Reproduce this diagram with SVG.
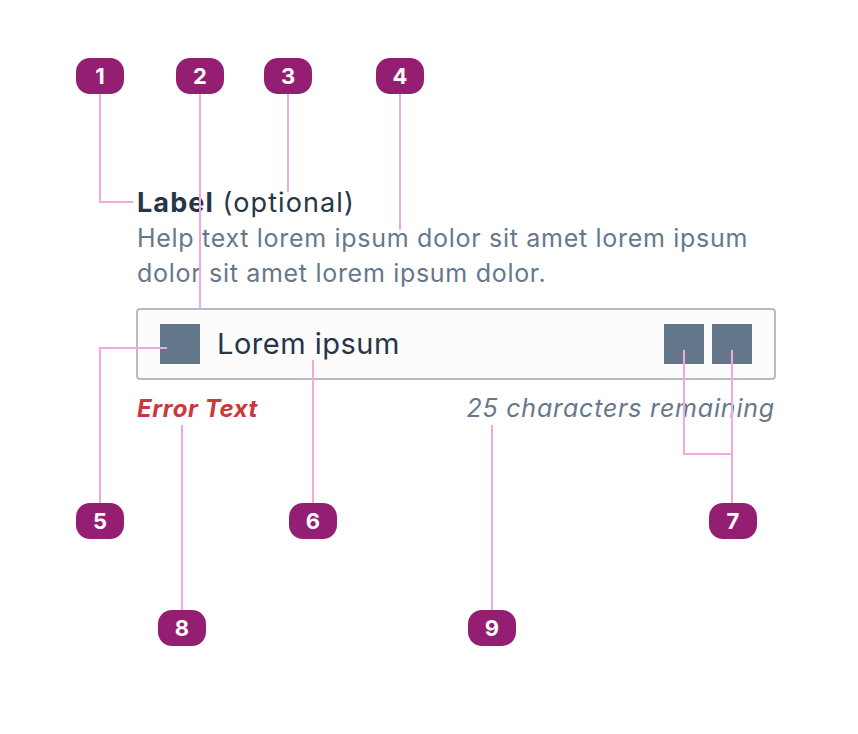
<svg xmlns="http://www.w3.org/2000/svg" width="858" height="734" viewBox="0 0 858 734">
<style>
.badge rect{fill:#941f72}
.badge text{fill:#ffffff;font-family:Inter,"Liberation Sans",sans-serif;font-weight:700;font-size:22px;text-anchor:middle}
.conn{fill:none;stroke:#f5a8dc;stroke-width:2}
.t{font-family:Inter,"Liberation Sans",sans-serif}
.icon{fill:#64768a}
</style>
<rect width="858" height="734" fill="#ffffff"/>
<g id="field">
  <text class="t" x="137" y="212" font-size="27" letter-spacing="1.1" fill="#263648"><tspan font-weight="700">Label</tspan> (optional)</text>
  <text class="t" x="137" y="247" font-size="25" letter-spacing="0.7" fill="#66788c">Help text lorem ipsum dolor sit amet lorem ipsum</text>
  <text class="t" x="137" y="282" font-size="25" letter-spacing="0.7" fill="#66788c">dolor sit amet lorem ipsum dolor.</text>
  <rect x="137" y="309" width="638" height="70" rx="3" fill="#fcfcfd" stroke="#b3bdca" stroke-width="2"/>
  <rect class="icon" x="160" y="324" width="40" height="40"/>
  <text class="t" x="217" y="354" font-size="29" letter-spacing="0.5" fill="#263648">Lorem ipsum</text>
  <rect class="icon" x="664" y="324" width="40" height="40"/>
  <rect class="icon" x="712" y="324" width="40" height="40"/>
  <text class="t" x="137" y="417" font-size="24" letter-spacing="0.6" font-weight="700" font-style="italic" fill="#c9383a">Error Text</text>
  <text class="t" x="775" y="417" font-size="25" letter-spacing="0.8" font-style="italic" fill="#66788c" text-anchor="end">25 characters remaining</text>
</g>
<g id="connectors">
  <path class="conn" d="M100 94V202H133"/>
  <path class="conn" d="M200 94V308"/>
  <path class="conn" d="M288 94V192"/>
  <path class="conn" d="M400 94V230"/>
  <path class="conn" d="M100 503V348H167"/>
  <path class="conn" d="M313 503V360"/>
  <path class="conn" d="M684 350V454H732"/>
  <path class="conn" d="M732 350V503"/>
  <path class="conn" d="M182 425V610"/>
  <path class="conn" d="M492 425V610"/>
</g>
<g id="badge1" class="badge"><rect x="76" y="58" width="48" height="36" rx="14"/><text x="100" y="84">1</text></g>
<g id="badge2" class="badge"><rect x="176" y="58" width="48" height="36" rx="14"/><text x="200" y="84">2</text></g>
<g id="badge3" class="badge"><rect x="264" y="58" width="48" height="36" rx="14"/><text x="288" y="84">3</text></g>
<g id="badge4" class="badge"><rect x="376" y="58" width="48" height="36" rx="14"/><text x="400" y="84">4</text></g>
<g id="badge5" class="badge"><rect x="76" y="503" width="48" height="36" rx="14"/><text x="100" y="529">5</text></g>
<g id="badge6" class="badge"><rect x="289" y="503" width="48" height="36" rx="14"/><text x="313" y="529">6</text></g>
<g id="badge7" class="badge"><rect x="709" y="503" width="48" height="36" rx="14"/><text x="733" y="529">7</text></g>
<g id="badge8" class="badge"><rect x="158" y="610" width="48" height="36" rx="14"/><text x="182" y="636">8</text></g>
<g id="badge9" class="badge"><rect x="468" y="610" width="48" height="36" rx="14"/><text x="492" y="636">9</text></g>
</svg>
